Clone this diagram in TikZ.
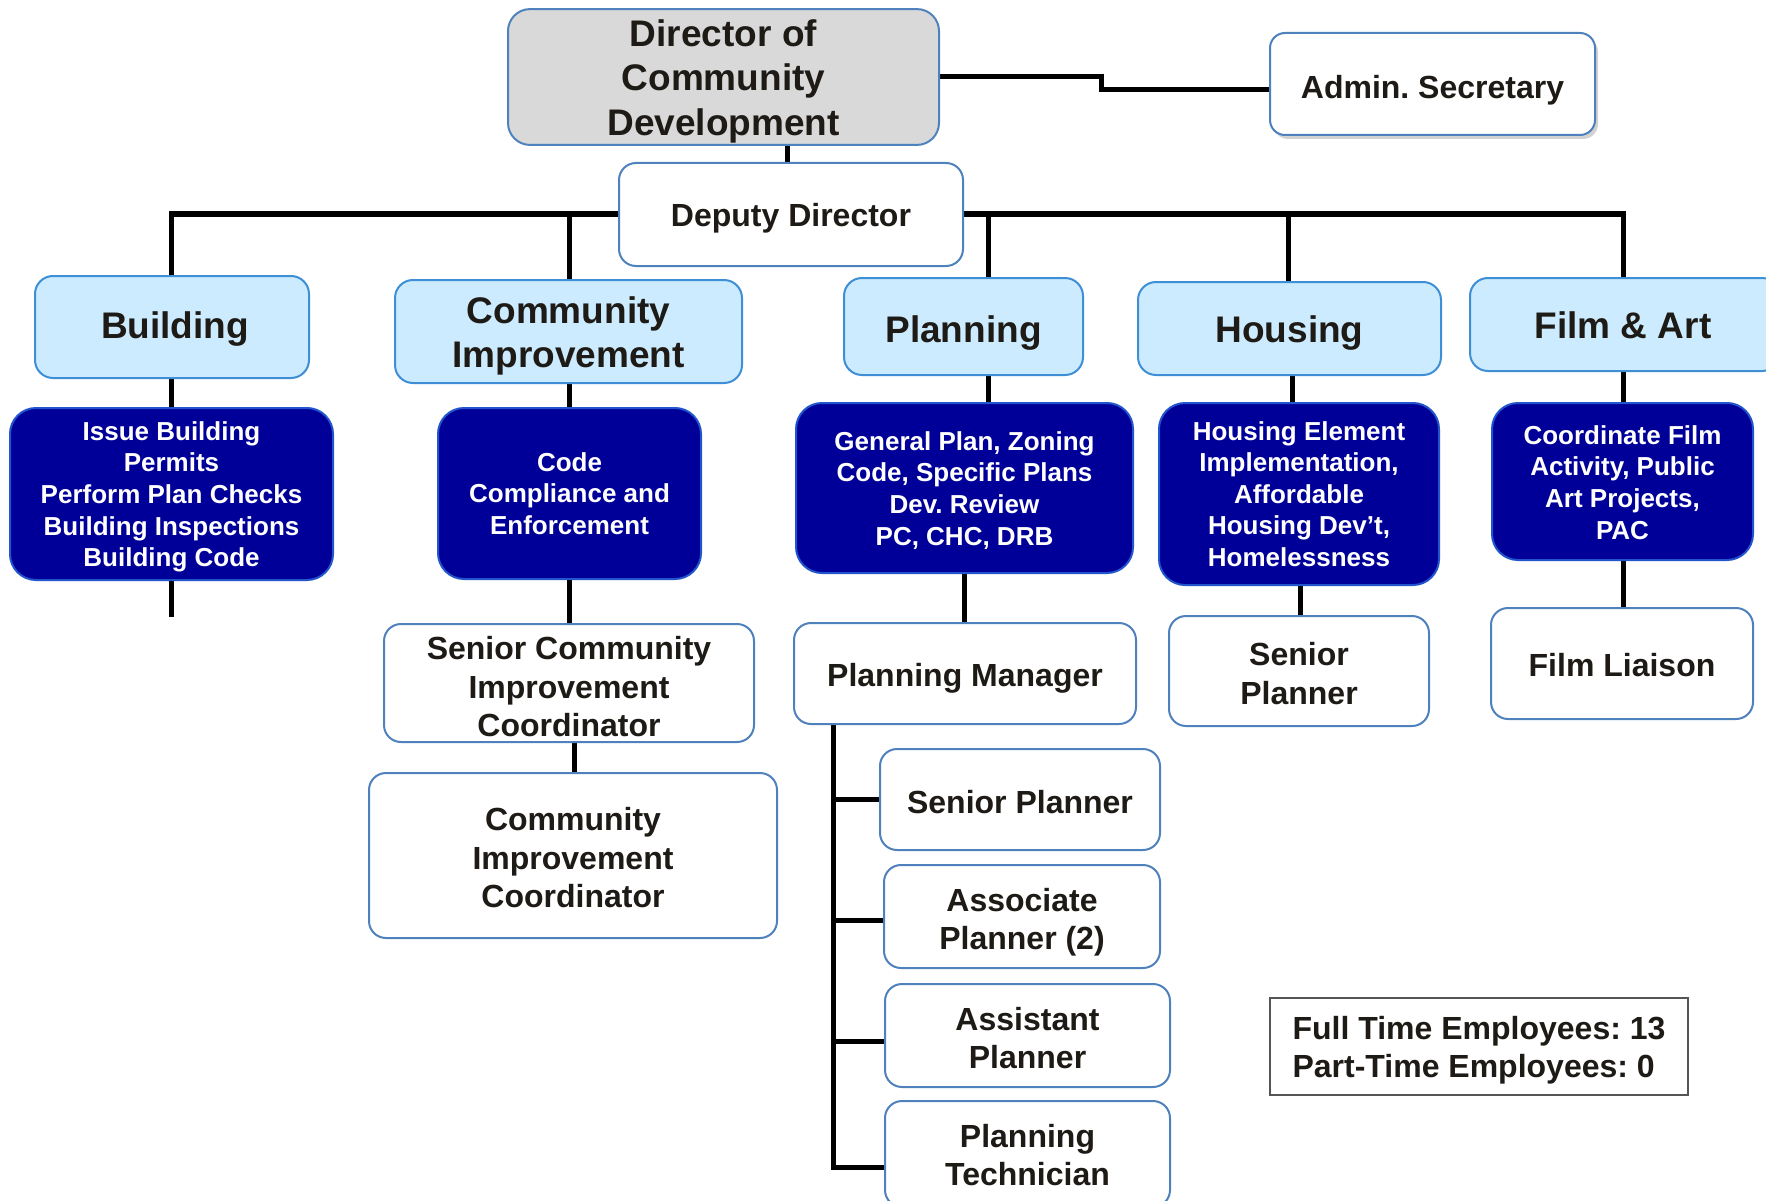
\documentclass[tikz,border=0pt]{standalone}
\usepackage{fontspec}
\setmainfont{Liberation Sans}
\usetikzlibrary{backgrounds,shadows,calc}
\definecolor{ink}{HTML}{1E1B16}
\definecolor{boxline}{HTML}{4F81BD}
\definecolor{deptfill}{HTML}{CCEBFF}
\definecolor{deptline}{HTML}{3F8FD6}
\definecolor{navy}{HTML}{000099}
\definecolor{navyline}{HTML}{2255CC}
\definecolor{headfill}{HTML}{D9D9D9}
\definecolor{empline}{HTML}{555555}
\newcommand\fsz[2]{\fontsize{#1}{#2}\selectfont\bfseries\frenchspacing}
% invisible strut that sets the height of a first text line
\newcommand\lift[1]{\rule{0pt}{#1em}}
\pgfdeclarelayer{paper}
\pgfsetlayers{paper,background,main}

\begin{document}
\begin{tikzpicture}[x=1pt,y=-1pt,
  base/.style={draw, line width=2pt, align=center, inner sep=2pt, text=ink},
  headbox/.style={base, draw=boxline, fill=headfill, rounded corners=22pt, font=\fsz{37}{44.5}},
  whitebox/.style={base, draw=boxline, fill=white, rounded corners=17pt, font=\fsz{32}{38.5}},
  deptbox/.style={base, draw=deptline, fill=deptfill, rounded corners=18pt, font=\fsz{37}{44}},
  taskbox/.style={base, draw=navyline, fill=navy, text=white, rounded corners=26pt, font=\fsz{26}{31.6}},
  conn/.style={line width=5pt, draw=black, line join=miter}
]
\useasboundingbox (0,0) rectangle (1766,1201);
\begin{pgfonlayer}{paper}
  \fill[white] (0,0) rectangle (1766,1201);
\end{pgfonlayer}

% top level
\node[headbox, minimum width=431, minimum height=134] (dir) at (723.5,77) {\lift{0.95}Director of\\Community\\Development};
\node[whitebox, minimum width=344, minimum height=103] (dep) at (791,214.5) {\lift{0.97}Deputy Director};
\node[whitebox, rounded corners=15pt, minimum width=325, minimum height=102,
      drop shadow={opacity=0.35, shadow xshift=3pt, shadow yshift=-4pt}] (adm) at (1432.5,84) {\lift{1.11}Admin. Secretary};

% divisions
\node[deptbox, minimum width=274, minimum height=102] (bld) at (172,327) {\lift{0.85}\hspace*{6pt}Building};
\node[deptbox, minimum width=347, minimum height=103] (ci) at (568.5,331.5) {\lift{0.97}Community\\Improvement};
\node[deptbox, minimum width=239, minimum height=97] (pln) at (963.5,326.5) {\lift{1.09}Planning};
\node[deptbox, minimum width=303, minimum height=93] (hsg) at (1289.5,328.5) {\lift{0.97}Housing};
\node[deptbox, minimum width=310, minimum height=93] (film) at (1625,324.5) {\lift{0.79}Film \& Art\hspace*{4pt}};

% responsibilities
\node[taskbox, minimum width=323, minimum height=172] (bldf) at (171.5,494) {\lift{0.95}Issue Building\\Permits\\Perform Plan Checks\\Building Inspections\\Building Code};
\node[taskbox, minimum width=263, minimum height=171] (ccf) at (569.5,493.5) {Code\\Compliance and\\Enforcement};
\node[taskbox, minimum width=337, minimum height=170] (gpf) at (964.5,488) {\lift{0.9}General Plan, Zoning\\Code, Specific Plans\\Dev. Review\\PC, CHC, DRB};
\node[taskbox, minimum width=280, minimum height=182] (hef) at (1299,494) {Housing Element\\Implementation,\\Affordable\\Housing Dev’t,\\Homelessness};
\node[taskbox, minimum width=261, minimum height=157] (ffa) at (1622.5,481.5) {\lift{0.8}Coordinate Film\\Activity, Public\\Art Projects,\\PAC};

% staff positions
\node[whitebox, minimum width=370, minimum height=118] (scic) at (569,683) {\lift{0.95}Senior Community\\Improvement\\Coordinator};
\node[whitebox, minimum width=408, minimum height=165] (cic) at (573,855.5) {\lift{0.875}Community\\Improvement\\Coordinator};
\node[whitebox, minimum width=342, minimum height=101] (pm) at (965,673.5) {\lift{1.04}Planning Manager};
\node[whitebox, minimum width=280, minimum height=101] (sp) at (1020,799.5) {\lift{0.9}Senior Planner};
\node[whitebox, minimum width=276, minimum height=103] (ap) at (1022,916.5) {\lift{1.08}Associate\\Planner (2)};
\node[whitebox, minimum width=285, minimum height=103] (asp) at (1027.5,1035.5) {\lift{0.875}Assistant\\Planner};
\node[whitebox, minimum width=285, minimum height=106] (pt) at (1027.5,1154) {\lift{0.8}Planning\\Technician};
\node[whitebox, minimum width=260, minimum height=110] (hsp) at (1299,671) {\lift{0.875}Senior\\Planner};
\node[whitebox, minimum width=262, minimum height=111] (fl) at (1622,663.5) {\lift{0.83}Film Liaison};

% staffing summary
\node[draw=empline, line width=1.5pt, fill=white, text=ink, font=\fsz{32}{38.5}, align=left,
      minimum width=418, minimum height=97, inner sep=0pt] (emp) at (1479,1046.5) {\lift{0.95}Full Time Employees: 13\\Part-Time Employees: 0};

% connector columns
\coordinate (ak) at (1101,0);
\coordinate (ddx) at (787,0);
\coordinate (cB) at (171,214);
\coordinate (cC) at (569,214);
\coordinate (cP) at (988,214);
\coordinate (cH) at (1288,214);
\coordinate (cF) at (1623,214);
\coordinate (cC2) at (574,0);
\coordinate (hx) at (1292,0);
\coordinate (hx2) at (1300,0);
\coordinate (pmx) at (833,0);
\coordinate (bend) at (171,617);

\begin{scope}[on background layer]
  \draw[conn] (dir.east) -- (dir.east -| ak) -- ($(adm.west -| ak)+(0,6)$) -- ($(adm.west)+(0,6)$);
  \draw[conn] (dir.south -| ddx) -- (dep.north -| ddx);
  \draw[conn] (bld.north -| cB) -- (cB) -- (cF) -- (film.north -| cF);
  \draw[conn] (cC) -- (ci.north -| cC);
  \draw[conn] (cP) -- (pln.north -| cP);
  \draw[conn] (cH) -- (hsg.north -| cH);

  \draw[conn] (bld.south -| cB) -- (bldf.north -| cB);
  \draw[conn] (bldf.south -| cB) -- (bend);
  \draw[conn] (ci.south -| cC) -- (ccf.north -| cC);
  \draw[conn] (ccf.south -| cC) -- (scic.north -| cC);
  \draw[conn] (scic.south -| cC2) -- (cic.north -| cC2);
  \draw[conn] (pln.south -| cP) -- (gpf.north -| cP);
  \draw[conn] (gpf.south) -- (gpf.south |- pm.north);
  \draw[conn] (hsg.south -| hx) -- (hef.north -| hx);
  \draw[conn] (hef.south -| hx2) -- (hsp.north -| hx2);
  \draw[conn] (film.south -| cF) -- (ffa.north -| cF);
  \draw[conn] (ffa.south -| cF) -- (fl.north -| cF);

  \draw[conn] (pm.south -| pmx) -- ($(pt.west -| pmx)+(0,13)$) -- ($(pt.west)+(0,13)$);
  \draw[conn] (sp.west -| pmx) -- (sp.west);
  \draw[conn] ($(ap.west -| pmx)+(0,4)$) -- ($(ap.west)+(0,4)$);
  \draw[conn] ($(asp.west -| pmx)+(0,6)$) -- ($(asp.west)+(0,6)$);
\end{scope}
\end{tikzpicture}
\end{document}
